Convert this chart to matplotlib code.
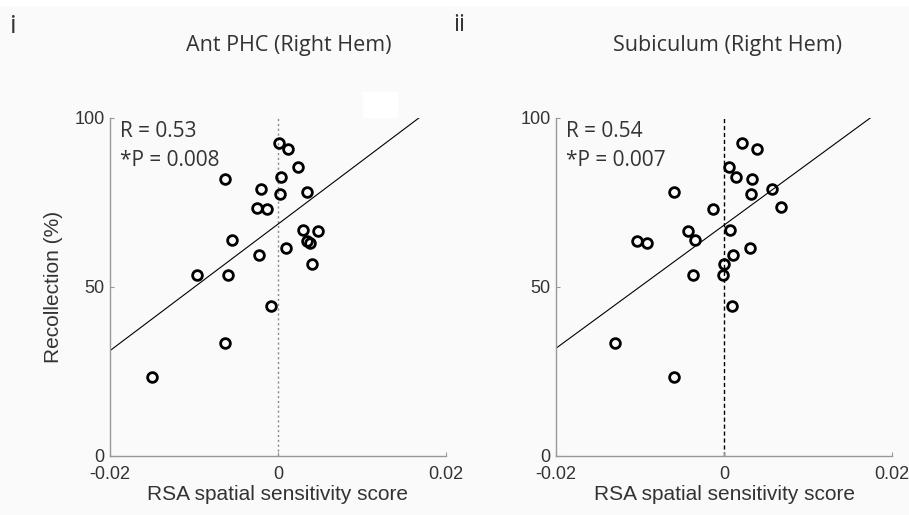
"""Recollection vs RSA spatial sensitivity, two right-hemisphere ROIs."""

import matplotlib

matplotlib.use("Agg")
import matplotlib.pyplot as plt
from matplotlib.patches import Rectangle
import numpy as np

# panel i: Ant PHC (Right Hem)
phc_x = [0.0001, 0.0012, 0.0024, -0.0063, 0.0004, -0.0020, 0.0003, 0.0034,
         -0.0025, -0.0013, 0.0030, 0.0048, -0.0055, 0.0034, 0.0038, 0.0010,
         -0.0022, 0.0041, -0.0096, -0.0059, -0.0008, -0.0063, -0.0150]
phc_y = [92.5, 90.9, 85.5, 82.0, 82.4, 78.9, 77.4, 78.0, 73.4, 73.0, 67.0,
         66.6, 64.0, 63.7, 62.9, 61.5, 59.5, 56.7, 53.5, 53.5, 44.5, 33.4, 23.5]
phc_fit = (1872.0, 68.6)  # slope, intercept as drawn

# panel ii: Subiculum (Right Hem)
sub_x = [0.0021, 0.0039, 0.0006, 0.0014, 0.0033, -0.0060, 0.0057, 0.0032,
         0.0068, -0.0013, -0.0043, 0.0007, -0.0035, -0.0104, -0.0092, 0.0031,
         0.0011, 0.0000, -0.0037, -0.0001, 0.0009, -0.0130, -0.0060]
sub_y = [92.5, 90.9, 85.5, 82.4, 82.0, 78.0, 79.0, 77.4, 73.6, 73.0, 66.5,
         67.0, 63.9, 63.7, 62.9, 61.5, 59.5, 56.8, 53.5, 53.5, 44.5, 33.4, 23.5]
sub_fit = (1821.0, 68.3)

panels = [
    ("i", "Ant PHC (Right Hem)", phc_x, phc_y, phc_fit, "R = 0.53", "*P = 0.008"),
    ("ii", "Subiculum (Right Hem)", sub_x, sub_y, sub_fit, "R = 0.54", "*P = 0.007"),
]

x_ticks = [-0.02, 0, 0.02]
x_tick_labels = ["-0.02", "0", "0.02"]
y_ticks = [0, 50, 100]

BG = "#fafafa"
TXT = "#333333"
AXC = "#999999"

fig = plt.figure(figsize=(9.09, 5.15), dpi=100, facecolor=BG)
lefts = [0.121, 0.6117]
title_x = [0.318, 0.800]
zero_style = [dict(color="#888888", linestyle=(0, (1.5, 2)), linewidth=1.0),
              dict(color="black", linestyle=(0, (3, 2)), linewidth=1.0)]

for k, (tag, title, xs, ys, fit, r_txt, p_txt) in enumerate(panels):
    ax = fig.add_axes([lefts[k], 0.1146, 0.3696, 0.6563])
    ax.set_facecolor(BG)
    ax.set_xlim(-0.02, 0.02)
    ax.set_ylim(0, 100)

    ax.plot([0, 0], [0, 100], **zero_style[k], zorder=1)
    gx = np.linspace(-0.02, 0.02, 50)
    ax.plot(gx, fit[0] * gx + fit[1], color="black", linewidth=0.8, zorder=2)
    ax.plot(xs, ys, "o", markersize=7, markerfacecolor="none",
            markeredgecolor="black", markeredgewidth=2.0, zorder=3)

    for s in ("top", "right"):
        ax.spines[s].set_visible(False)
    for s in ("left", "bottom"):
        ax.spines[s].set_color(AXC)
        ax.spines[s].set_linewidth(1.0)
    ax.set_xticks(x_ticks)
    ax.set_xticklabels(x_tick_labels)
    ax.set_yticks(y_ticks)
    ax.tick_params(direction="in", length=3, color=AXC, labelcolor=TXT,
                   labelsize=13, pad=4)
    ax.tick_params(axis="x", pad=7)
    for lab in ax.get_xticklabels() + ax.get_yticklabels():
        lab.set_family("Liberation Sans")

    ax.set_xlabel("RSA spatial sensitivity score", fontsize=15, color=TXT,
                  family="Liberation Sans", labelpad=2)
    if k == 0:
        ax.set_ylabel("Recollection (%)", fontsize=15, color=TXT,
                      family="Liberation Sans", labelpad=8)

    ax.text(0.03, 0.99, r_txt, transform=ax.transAxes, fontsize=15,
            color=TXT, family="Open Sans", va="top", ha="left")
    ax.text(0.03, 0.905, p_txt, transform=ax.transAxes, fontsize=15,
            color=TXT, family="Open Sans", va="top", ha="left")

    fig.text(title_x[k], 0.911, title, fontsize=15.5,
             color=TXT, family="Open Sans", ha="center", va="center")

fig.text(0.011, 0.972, "i", fontsize=19, color=TXT, family="Open Sans",
         va="top", ha="left")
fig.text(0.499, 0.975, "ii", fontsize=17, color=TXT, family="Open Sans",
         va="top", ha="left")

# white patch and top strip seen in the source image
fig.patches.append(Rectangle((363 / 909, 1 - 118 / 515), 35 / 909, 26 / 515,
                             transform=fig.transFigure, facecolor="white",
                             edgecolor="none", zorder=5))
fig.patches.append(Rectangle((0, 1 - 6 / 515), 1, 6 / 515,
                             transform=fig.transFigure, facecolor="white",
                             edgecolor="none", zorder=5))

fig.savefig("out.png", dpi=100, facecolor=BG)
